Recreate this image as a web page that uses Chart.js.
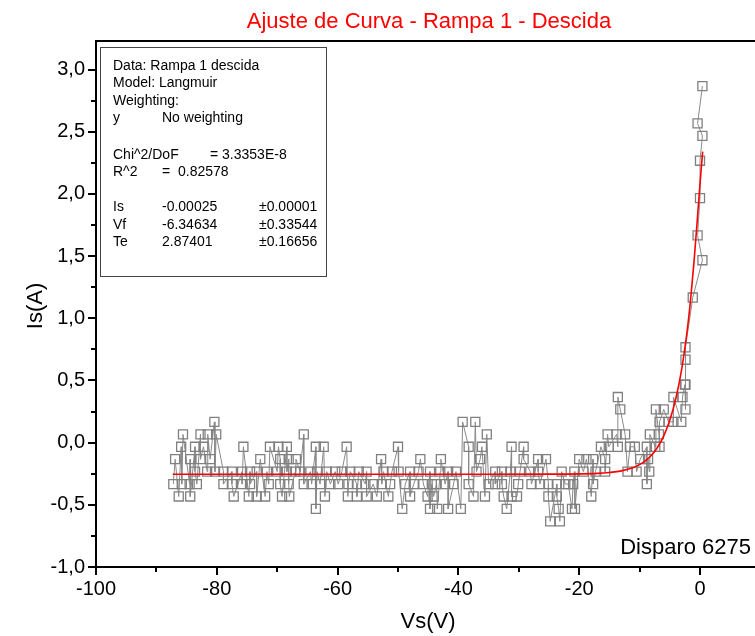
<!DOCTYPE html>
<html>
<head>
<meta charset="utf-8">
<script src="https://cdn.jsdelivr.net/npm/chart.js@4.4.1/dist/chart.umd.min.js"></script>
<style>
    html, body { margin: 0; padding: 0; background: #fff; overflow: hidden; }
    #wrap { width: 755px; height: 636px; overflow: hidden; position: relative; }
    canvas { display: block; }
</style>
</head>
<body>
<div id="wrap"><canvas id="chart" width="770" height="636"></canvas></div>
<script>
// Points de la rampe [Vs, Is] (de gauche à droite)
const segmentA = [
    [-87.2,-0.333],[-86.9,-0.133],[-86.3,-0.433],[-85.9,-0.033],[-85.8,-0.333],[-85.6,0.067],
    [-84.5,-0.333],[-84.4,-0.133],[-84.4,-0.433],[-83.6,-0.033],[-83.6,-0.233],[-83.3,-0.333],
    [-82.7,0.067],[-82.7,-0.133],[-82.2,-0.033],[-81.6,-0.233],[-81.5,0.067],[-81.1,-0.133],
    [-80.4,0.167],[-80.3,-0.233],[-80.1,0.067],[-78.9,-0.233],[-78.9,-0.333],[-77.5,-0.233],
    [-77.5,-0.333],[-77.2,-0.433],[-75.8,-0.233],[-75.8,-0.333],[-75.6,-0.033],[-74.7,-0.433],
    [-74.5,-0.233],[-74.5,-0.333],[-73.4,-0.233],[-73.4,-0.433],[-72.8,-0.133],[-72.0,-0.433],
    [-71.7,-0.233],[-71.4,-0.333],[-71.2,-0.033],[-70.0,-0.233],[-69.8,-0.033],[-69.5,-0.133],
    [-69.5,-0.333],[-69.2,-0.433],[-68.4,-0.033],[-68.4,-0.233],[-68.1,-0.133],[-68.1,-0.333],
    [-68.0,-0.433],[-67.0,-0.233],[-66.9,-0.133]
];
const segmentB = [
    [-66.2,-0.233],[-65.6,0.067],[-65.6,-0.333],[-64.5,-0.233],[-64.3,-0.333],[-63.6,-0.033],
    [-63.6,-0.533],[-63.4,-0.233],[-62.9,-0.333],[-62.3,-0.033],[-62.1,-0.433],[-61.8,-0.233],
    [-61.2,-0.333],[-60.4,-0.233],[-59.9,-0.333],[-59.3,-0.233],[-58.5,-0.033],[-58.3,-0.433],
    [-58.2,-0.333],[-57.9,-0.233],[-56.8,-0.333],[-56.8,-0.433],[-56.5,-0.233],[-55.4,-0.333],
    [-55.2,-0.233],[-55.2,-0.433],[-54.1,-0.333],[-53.5,-0.433],[-52.8,-0.133],[-52.7,-0.333],
    [-52.4,-0.233],[-51.6,-0.433],[-51.3,-0.333],[-51.0,-0.233],[-50.0,-0.033],[-49.9,-0.233],
    [-49.3,-0.533],[-48.8,-0.333],[-48.0,-0.233],[-48.0,-0.433],[-47.4,-0.333],[-46.6,-0.233],
    [-46.3,-0.133],[-45.8,-0.333],[-45.1,-0.433],[-44.7,-0.233],[-44.7,-0.533],[-44.4,-0.333]
];
const segmentC = [
    [-44.1,-0.433],[-43.6,-0.333],[-43.5,-0.533],[-43.0,-0.233],[-42.9,-0.133],[-42.2,-0.333],
    [-41.7,-0.233],[-41.7,-0.533],[-40.8,-0.333],[-40.4,-0.233],[-39.6,-0.533],[-39.3,0.167],
    [-38.3,-0.033],[-38.3,-0.333],[-37.5,-0.433],[-37.2,0.167],[-37.0,-0.233],[-36.4,-0.133],
    [-36.1,-0.033],[-35.6,-0.433],[-35.3,0.067],[-35.0,-0.333],[-33.9,-0.233],[-33.9,-0.333],
    [-32.8,-0.233],[-32.8,-0.333],[-32.5,-0.433],[-32.0,-0.533],[-31.4,-0.233],[-31.2,-0.033],
    [-31.2,-0.433],[-30.3,-0.433],[-30.1,-0.333],[-29.8,-0.233],[-29.2,-0.033],[-29.2,-0.133],
    [-28.1,-0.233],[-27.9,-0.333],[-26.8,-0.133],[-26.8,-0.233],[-26.5,-0.333],[-25.5,-0.133],
    [-25.1,-0.333],[-25.1,-0.433],[-24.8,-0.633],[-23.7,-0.333],[-23.7,-0.433],[-23.4,-0.533],
    [-23.2,-0.633],[-22.9,-0.233],[-22.3,-0.333]
];
const segmentD = [
    [-21.8,-0.333],[-21.2,-0.533],[-21.0,-0.333],[-20.8,-0.233],[-20.7,-0.533],[-20.0,-0.133],
    [-19.3,-0.233],[-18.8,-0.133],[-18.0,-0.433],[-17.7,-0.133],[-17.7,-0.333],[-17.3,-0.233],
    [-16.4,-0.033],[-15.7,-0.133],[-15.7,-0.233],[-15.3,0.067],[-15.1,-0.033],[-13.8,0.067],
    [-13.6,-0.033],[-13.6,0.367],[-13.2,0.267],[-12.4,0.067],[-12.0,-0.233],[-11.6,-0.033],
    [-10.8,-0.033],[-10.5,-0.233],[-9.9,-0.133],[-8.8,-0.033],[-8.8,-0.333],[-8.6,-0.133],
    [-8.4,-0.233],[-8.3,0.067],[-7.4,-0.033],[-7.3,0.267],[-6.8,0.067],[-6.7,-0.033],
    [-6.7,0.167],[-6.0,0.267],[-5.2,0.167],[-4.4,0.167],[-4.4,0.367],[-3.1,0.167],
    [-2.9,0.367],[-2.5,0.467],[-2.4,0.267]
];
const segmentRise = [
    [-2.4,0.467],[-2.4,0.667],[-2.4,0.767],[-1.2,1.167],[0.4,1.467],[-0.4,1.667],
    [0.0,1.967],[0.0,2.267],[0.4,2.467],[-0.4,2.567],[0.4,2.867]
];

// Courbe d'ajustement (Langmuir)
const fitVs = [-87.3, -40, -25, -20, -17, -15, -13, -11, -10, -9, -8, -7, -6, -5, -4, -3, -2, -1.5, -1, -0.5, 0, 0.44];
const fitIs = [-0.254, -0.254, -0.253, -0.251, -0.247, -0.240, -0.227, -0.200, -0.177, -0.145, -0.100, -0.035,
               0.055, 0.180, 0.355, 0.600, 0.950, 1.180, 1.450, 1.760, 2.080, 2.340];

const xTicks = [-100, -80, -60, -40, -20, 0];
const yTicks = [-1.0, -0.5, 0.0, 0.5, 1.0, 1.5, 2.0, 2.5, 3.0];

const infoLines = [
    ['Data: Rampa 1 descida', '', ''],
    ['Model: Langmuir', '', ''],
    ['Weighting:', '', ''],
    ['y', 'No weighting', ''],
    ['Chi^2/DoF', '', '= 3.3353E-8'],
    ['R^2', '=  0.82578', ''],
    ['Is', '-0.00025', '±0.00001'],
    ['Vf', '-6.34634', '±0.33544'],
    ['Te', '2.87401', '±0.16656']
];
const infoBaselines = [70, 87, 104.5, 122, 159, 176, 211, 228.5, 246];

const FONT = '"Liberation Sans", Arial, sans-serif';

const rampPoints = [...segmentA, ...segmentB, ...segmentC, ...segmentD, ...segmentRise]
    .map(([vs, is]) => ({ x: vs, y: is }));
const fitPoints = fitVs.map((vs, i) => ({ x: vs, y: fitIs[i] }));

const decorPlugin = {
    id: 'decor',
    afterDraw(chart) {
        const { ctx, chartArea: area, scales: { x, y } } = chart;
        ctx.save();

        // cadre du haut
        ctx.strokeStyle = '#000';
        ctx.lineWidth = 2;
        ctx.beginPath();
        ctx.moveTo(area.left - 1, area.top);
        ctx.lineTo(area.right + 20, area.top);
        ctx.stroke();

        // graduations x (majeures / mineures)
        ctx.beginPath();
        for (let v = -100; v <= 10; v += 10) {
            const px = Math.round(x.getPixelForValue(v));
            const len = v % 20 === 0 ? 8 : 5;
            ctx.moveTo(px, area.bottom);
            ctx.lineTo(px, area.bottom + len);
        }
        // graduations y
        for (let i = 0; i <= 16; i++) {
            const v = -1 + i * 0.25;
            const py = Math.round(y.getPixelForValue(v));
            const len = i % 2 === 0 ? 8 : 5;
            ctx.moveTo(area.left, py);
            ctx.lineTo(area.left - len, py);
        }
        ctx.stroke();

        // titre
        ctx.fillStyle = '#ff0000';
        ctx.font = '22px ' + FONT;
        ctx.textAlign = 'center';
        ctx.textBaseline = 'alphabetic';
        ctx.fillText('Ajuste de Curva - Rampa 1 - Descida', 429, 28);

        // titres des axes
        ctx.fillStyle = '#000';
        ctx.fillText('Vs(V)', 428, 628);
        ctx.save();
        ctx.translate(42, 306);
        ctx.rotate(-Math.PI / 2);
        ctx.fillText('Is(A)', 0, 0);
        ctx.restore();

        // annotation
        ctx.textAlign = 'right';
        ctx.fillText('Disparo 6275', 751, 554);

        // boîte de résultats
        ctx.strokeStyle = '#444';
        ctx.lineWidth = 1;
        ctx.strokeRect(100.5, 47.5, 226, 229);
        ctx.font = '14px ' + FONT;
        ctx.textAlign = 'left';
        infoLines.forEach(([a, b, c], i) => {
            const by = infoBaselines[i];
            ctx.fillText(a, 113, by);
            if (b) ctx.fillText(b, 162, by);
            if (c) ctx.fillText(c, i === 4 ? 210 : 259, by);
        });

        ctx.restore();
    }
};

const chart = new Chart(document.getElementById('chart'), {
    type: 'line',
    data: {
        datasets: [
            {
                label: 'Ajuste',
                data: fitPoints,
                borderColor: '#ff0000',
                borderWidth: 1.6,
                pointRadius: 0,
                cubicInterpolationMode: 'monotone',
                fill: false
            },
            {
                label: 'Rampa 1 descida',
                data: rampPoints,
                borderColor: '#8a8a8a',
                borderWidth: 1,
                pointStyle: 'rect',
                pointRadius: 6.4,
                pointBorderColor: '#808080',
                pointBorderWidth: 1.3,
                pointBackgroundColor: 'rgba(0,0,0,0)',
                tension: 0,
                fill: false
            }
        ]
    },
    options: {
        responsive: false,
        animation: false,
        devicePixelRatio: 1,
        layout: { padding: { top: 41, right: 9.6, left: 0, bottom: 0 } },
        plugins: {
            legend: { display: false },
            tooltip: { enabled: false },
            title: { display: false }
        },
        scales: {
            x: {
                type: 'linear',
                min: -100,
                max: 10,
                afterBuildTicks: (scale) => { scale.ticks = xTicks.map(v => ({ value: v })); },
                afterFit: (scale) => { scale.height = 69; },
                grid: { display: false, drawTicks: false },
                border: { display: true, color: '#000', width: 2 },
                ticks: {
                    color: '#000',
                    font: { family: FONT, size: 20 },
                    padding: 10,
                    maxRotation: 0,
                    autoSkip: false,
                    callback: (v) => String(v)
                }
            },
            y: {
                type: 'linear',
                min: -1.0,
                max: 3.23,
                afterBuildTicks: (scale) => { scale.ticks = yTicks.map(v => ({ value: v })); },
                afterFit: (scale) => { scale.width = 96; },
                grid: { display: false, drawTicks: false },
                border: { display: true, color: '#000', width: 2 },
                ticks: {
                    color: '#000',
                    font: { family: FONT, size: 20 },
                    padding: 11,
                    autoSkip: false,
                    callback: (v) => Number(v).toFixed(1).replace('.', ',')
                }
            }
        }
    },
    plugins: [decorPlugin]
});
</script>
</body>
</html>
